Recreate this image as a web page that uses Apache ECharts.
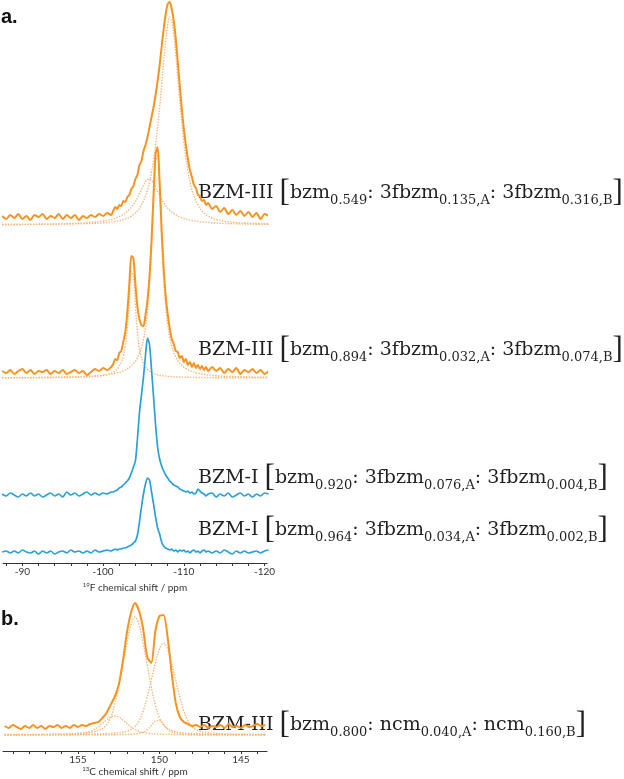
<!DOCTYPE html>
<html>
<head>
<meta charset="utf-8">
<script src="https://cdn.jsdelivr.net/npm/echarts@6/dist/echarts.min.js"></script>
<style>
html,body{margin:0;padding:0;background:#fff;}
#chart{width:624px;height:779px;}
</style>
</head>
<body>
<div id="chart"></div>
<script>
// ---------- Panel a: 19F spectra (ppm grid) ----------
const ppmA = [-87.5,-88,-88.5,-89,-89.5,-90,-90.5,-91,-91.5,-92,-92.5,-93,-93.5,-94,-94.5,-95,-95.5,-96,-96.5,-97,-97.5,-98,-98.5,-99,-99.5,-100,-100.5,-101,
-101.25,-101.5,-101.75,-102,-102.25,-102.5,-102.75,-103,-103.25,-103.5,-103.75,-104,-104.25,-104.5,-104.75,-105,-105.25,-105.5,-105.75,-106,-106.25,-106.5,-106.75,-107,-107.25,-107.5,-107.75,-108,-108.25,-108.5,-108.75,-109,-109.25,-109.5,-109.75,-110,-110.25,-110.5,-110.75,-111,-111.25,-111.5,-111.75,-112,-112.25,-112.5,-112.75,-113,
-113.5,-114,-114.5,-115,-115.5,-116,-116.5,-117,-117.5,-118,-118.5,-119,-119.5,-120,-120.5];

// BZM-III bzm0.549 (experimental + fitted components A, B)
const s1Exp = [1,-2,2,-1,3,-2,1,-3,2,0,3,-2,1,-1,3,-2,2,-1,2,-3,1,-1,2,0,3,1,4,2,
6,10,8,12,11,16,15,20,22,28,31,38,42,52,56,66,72,80,90,100,110,122,136,152,170,188,203,213,215,208,196,178,155,131,108,88,72,58,47,40,32,29,22,21,16,17,12,14,
8,11,5,9,3,7,2,6,1,5,0,4,-2,3,1];
const s1FitA = [0.4,0.5,0.5,0.5,0.5,0.6,0.6,0.6,0.7,0.7,0.8,0.9,0.9,1.0,1.1,1.2,1.3,1.5,1.6,1.8,2.0,2.3,2.6,2.9,3.4,4.0,4.7,5.6,
6.2,6.8,7.6,8.4,9.4,10.6,12.0,13.6,15.5,17.8,20.5,23.7,27.3,31.3,35.5,39.7,43.2,45.4,46.0,44.7,41.9,38.0,33.8,29.6,25.8,22.4,19.4,16.9,14.7,12.9,11.4,10.1,9.0,8.0,7.2,6.5,5.9,5.4,4.9,4.5,4.2,3.8,3.6,3.3,3.1,2.9,2.7,2.6,
2.2,1.9,1.7,1.5,1.4,1.3,1.2,1.1,1.0,0.9,0.8,0.7,0.7,0.6,0.6];
const s1FitB = [0.5,0.5,0.5,0.5,0.5,0.6,0.6,0.6,0.6,0.7,0.7,0.7,0.8,0.8,0.9,0.9,1.0,1.0,1.1,1.2,1.3,1.4,1.5,1.7,1.9,2.2,2.5,3.0,
3.2,3.5,3.9,4.3,4.8,5.3,6.0,6.8,7.7,8.8,10.2,11.9,14.0,16.6,20,24,29,35,43,53,65,80,98,118,140,162,184,200,208,204,190,170,147,124,102,83,67,54,43,35,29,24,20,16.5,14,12,10.4,9,
7,5.6,4.6,3.9,3.3,2.9,2.5,2.2,2.0,1.8,1.6,1.5,1.4,1.3,1.2];

// BZM-III bzm0.894
const s2Exp = [1,-1,2,-2,1,3,-1,2,-2,1,0,2,-2,1,-1,2,-2,0,2,-1,1,-3,0,3,1,4,2,5,
8,13,12,19,21,30,40,60,88,116,114,88,65,53,47,46,57,72,96,132,178,218,225,190,142,104,76,58,44,33,28,21,20,14,16,10,13,7,10,5,9,4,7,3,6,2,5,1,
5,1,4,-1,3,0,4,-2,2,0,3,-1,2,-2,1];
const s2FitA = [0.1,0.1,0.2,0.2,0.2,0.2,0.2,0.2,0.2,0.3,0.3,0.3,0.3,0.4,0.4,0.5,0.5,0.6,0.7,0.8,0.9,1.1,1.3,1.6,1.9,2.5,3.4,4.7,
5.7,7.1,8.9,11.6,15.6,22,32.5,50.2,78.3,106.5,102.4,71.9,45.9,29.9,20.5,14.7,11,8.5,6.8,5.5,4.6,3.8,3.3,2.8,2.4,2.1,1.9,1.7,1.5,1.4,1.2,1.1,1.0,1.0,0.9,0.8,0.7,0.7,0.6,0.6,0.6,0.5,0.5,0.5,0.4,0.4,0.4,0.4,
0.3,0.3,0.3,0.3,0.3,0.2,0.2,0.2,0.2,0.2,0.2,0.2,0.2,0.1,0.1];
const s2FitB = [0.3,0.4,0.4,0.4,0.4,0.5,0.5,0.5,0.6,0.6,0.6,0.7,0.7,0.8,0.9,0.9,1.0,1.1,1.2,1.4,1.5,1.7,1.9,2.2,2.5,2.8,3.3,3.9,
4.3,4.7,5.2,5.7,6.4,7.2,8.1,9.2,10.5,12.1,14.2,16.7,20.1,24.5,30.5,38.7,50.4,67.5,92.6,129,176,217,222,186,138,98.9,71.7,53.3,40.7,31.9,25.6,20.9,17.4,14.7,12.5,10.8,9.4,8.3,7.3,6.5,5.9,5.3,4.8,4.4,4.0,3.7,3.4,3.1,
2.7,2.3,2.0,1.8,1.6,1.5,1.3,1.2,1.1,1.0,0.9,0.8,0.8,0.7,0.7];

// BZM-I bzm0.920
const s3Exp = [1,-1,2,0,-2,1,-1,2,-1,1,-2,0,2,-1,1,-2,3,0,2,-1,1,3,0,2,0,2,1,3,
3,4,5,7,8,10,12,14,17,22,28,34,56,82,100,118,140,157,150,125,98,70,48,36,29,24,20,17,14,12,10,9,8,6,5,4,3,4,2,3,1,2,6,4,2,1,-1,1,
2,-2,1,-1,2,-2,0,2,-1,1,-2,1,-1,2,1];

// BZM-I bzm0.964
const s4Exp = [0,1,-1,1,-1,2,0,-1,1,-2,1,-1,1,-2,0,1,-1,2,0,1,-1,1,-1,2,0,1,2,1,
2,3,2,3,3,4,4,5,6,7,9,11,17,30,45,58,68,74,72,60,48,35,24,18,10,6,4,3,2,3,1,2,0,2,1,2,0,1,-1,1,2,0,1,-1,1,2,0,1,
-1,1,-1,2,0,-2,1,-1,1,-1,0,1,-1,1,2];

// vertical stacking offsets (same units as the intensities)
const expOffsetA = [346, 191, 68, 11];
const fitOffsetA = [338, 185];

const ticksA = [-88,-90,-92,-94,-96,-98,-100,-102,-104,-106,-108,-110,-112,-114,-116,-118,-120];
const labelsA = [-90,-100,-110,-120];

// ---------- Panel b: 13C spectrum ----------
const ppmB = [159.5,159.25,159,158.75,158.5,158.25,158,157.75,157.5,157.25,157,156.75,156.5,156.25,156,155.75,155.5,155.25,155,154.75,154.5,154.25,154,153.75,153.5,153.25,153,152.75,152.5,152.25,152,151.75,151.5,151.25,151,150.75,150.5,150.25,150,149.75,149.5,149.25,149,148.75,148.5,148.25,148,147.75,147.5,147.25,147,146.75,146.5,146.25,146,145.75,145.5,145.25,145,144.75,144.5,144.25,144,143.75,143.5];
const bExp = [1,-1,2,0,-2,1,-1,2,-1,1,-2,1,0,2,-1,1,-1,2,0,2,1,3,4,5,9,14,22,30,42,65,94,114,124,116,98,70,64,96,111,112,90,54,24,10,5,3,1,2,0,2,-1,1,0,2,-1,3,0,1,-1,2,0,1,3,1,2];
const bFit1 = [0.5,0.5,0.5,0.5,0.5,0.5,0.5,0.5,0.5,0.6,0.6,0.7,0.7,0.8,0.9,1.0,1.1,1.3,1.5,1.8,2.1,2.6,3.3,4.5,6.5,10,17,30,48,70,92,110,118,110,92,70,48,30,17,10,6.5,4.5,3.3,2.6,2.1,1.8,1.5,1.3,1.1,1.0,0.9,0.8,0.7,0.7,0.6,0.6,0.5,0.5,0.5,0.5,0.5,0.5,0.5,0.5,0.5];
const bFit2 = [0.3,0.3,0.3,0.3,0.35,0.35,0.35,0.35,0.4,0.4,0.4,0.4,0.5,0.5,0.5,0.5,0.55,0.6,0.65,0.7,0.75,0.8,0.9,1.0,1.15,1.3,1.5,1.8,2.2,2.8,3.8,5.5,8.5,14,24,38,55,72,86,92,86,72,55,38,24,14,8.5,5.5,3.8,2.8,2.2,1.8,1.5,1.3,1.15,1.0,0.9,0.8,0.75,0.7,0.65,0.6,0.55,0.5,0.5];
const bFit3 = [0.2,0.2,0.2,0.2,0.2,0.2,0.2,0.2,0.3,0.3,0.4,0.4,0.5,0.6,0.6,0.7,0.9,1.1,1.4,1.9,2.6,3.7,5.5,8,11.5,15,18,19,18,15,11.5,8,5.5,3.7,2.6,1.9,1.4,1.1,0.9,0.7,0.6,0.6,0.5,0.4,0.4,0.3,0.3,0.2,0.2,0.2,0.2,0.2,0.2,0.2,0.2,0.2,0.2,0.2,0.2,0.2,0.2,0.2,0.2,0.2,0.2];
const bFit4 = [0.2,0.2,0.2,0.2,0.2,0.2,0.2,0.2,0.2,0.2,0.2,0.2,0.2,0.2,0.2,0.2,0.2,0.2,0.2,0.2,0.2,0.2,0.2,0.2,0.2,0.25,0.3,0.3,0.4,0.5,0.6,0.8,1.0,1.6,2.8,5.2,9.5,14,14.5,10.5,6,3.2,1.8,1.1,0.8,0.6,0.5,0.4,0.3,0.3,0.25,0.2,0.2,0.2,0.2,0.2,0.2,0.2,0.2,0.2,0.2,0.2,0.2,0.2,0.2];
const expOffsetB = 24;
const fitOffsetB = 16;
const ticksB = [144,145,146,147,148,149,150,151,152,153,154,155,156,157,158,159];
const labelsB = [145,150,155];

// ---------- Text annotations ----------
const labelPhase = ['BZM-III','BZM-III','BZM-I','BZM-I','BZM-III'];
const labelGuest = ['3fbzm','3fbzm','3fbzm','3fbzm','ncm'];
const labelHost = ['0.549','0.894','0.920','0.964','0.800'];
const labelSiteA = ['0.135','0.032','0.076','0.034','0.040'];
const labelSiteB = ['0.316','0.074','0.004','0.002','0.160'];
const labelY = [193, 350, 478, 530, 725];

// ---------- styles ----------
const ORANGE = '#f7931e';
const ORANGE_FIT = '#f9b677';
const BLUE = '#2aa0d8';

function mk(ppm, vals, off) {
  return ppm.map((p, i) => [p, off + vals[i]]);
}
function expSeries(xi, ppm, vals, off, color, w, z) {
  return {type:'line', xAxisIndex:xi, yAxisIndex:xi, data:mk(ppm,vals,off),
    showSymbol:false, smooth:0.25, silent:true, z:z,
    lineStyle:{color:color, width:w}};
}
function fitSeries(xi, ppm, vals, off) {
  return {type:'line', xAxisIndex:xi, yAxisIndex:xi, data:mk(ppm,vals,off),
    showSymbol:false, smooth:0.4, silent:true, z:2,
    lineStyle:{color:ORANGE_FIT, width:1.4, type:'dotted'}};
}

const series = [
  fitSeries(0, ppmA, s1FitA, fitOffsetA[0]),
  fitSeries(0, ppmA, s1FitB, fitOffsetA[0]),
  fitSeries(0, ppmA, s2FitA, fitOffsetA[1]),
  fitSeries(0, ppmA, s2FitB, fitOffsetA[1]),
  expSeries(0, ppmA, s1Exp, expOffsetA[0], ORANGE, 2, 3),
  expSeries(0, ppmA, s2Exp, expOffsetA[1], ORANGE, 2, 3),
  expSeries(0, ppmA, s3Exp, expOffsetA[2], BLUE, 1.7, 4),
  expSeries(0, ppmA, s4Exp, expOffsetA[3], BLUE, 1.7, 4),
  fitSeries(1, ppmB, bFit1, fitOffsetB),
  fitSeries(1, ppmB, bFit2, fitOffsetB),
  fitSeries(1, ppmB, bFit3, fitOffsetB),
  fitSeries(1, ppmB, bFit4, fitOffsetB),
  expSeries(1, ppmB, bExp, expOffsetB, ORANGE, 2, 3)
];

const serif = '"DejaVu Serif", "Liberation Serif", serif';
const TXT = '#231f20';
const richStyle = {
  n:  {fontSize:19, fontFamily:serif, lineHeight:26, fill:TXT, color:TXT},
  br: {fontSize:31, fontFamily:'"Liberation Serif", serif', lineHeight:36, fill:TXT, color:TXT},
  sub:{fontSize:13, fontFamily:serif, height:20, lineHeight:20, verticalAlign:'bottom', fill:TXT, color:TXT}
};
const graphics = labelPhase.map((ph, i) => ({
  type:'text', x:198, y:labelY[i], silent:true,
  style:{
    text:'{n|' + ph + ' }{br|[}{n|bzm}{sub|' + labelHost[i] + '}{n|: ' + labelGuest[i] + '}{sub|' +
      labelSiteA[i] + ',A}{n|: ' + labelGuest[i] + '}{sub|' + labelSiteB[i] + ',B}{br|]}',
    rich: richStyle, align:'left', verticalAlign:'middle', fill:TXT
  }
}));
graphics.push({type:'text', x:1, y:17, style:{text:'a.', fontSize:20, fontWeight:'bold', fontFamily:'"Liberation Sans", Arial, sans-serif', fill:'#111', verticalAlign:'middle'}});
graphics.push({type:'text', x:1, y:619, style:{text:'b.', fontSize:20, fontWeight:'bold', fontFamily:'"Liberation Sans", Arial, sans-serif', fill:'#111', verticalAlign:'middle'}});

function xAxisCfg(gi, min, max, ticks, labels, nameSup, nameRest) {
  return {
    type:'value', gridIndex:gi, inverse:true, min:min, max:max,
    splitLine:{show:false},
    axisLine:{show:true, onZero:false, lineStyle:{color:'#333', width:1}},
    axisTick:{show:true, inside:false, length:3, customValues:ticks, lineStyle:{color:'#333', width:1}},
    axisLabel:{show:true, customValues:labels, margin:4, fontSize:10, fontFamily:'Lato, "Open Sans", sans-serif', color:'#333'},
    name:'{sup|' + nameSup + '}{n|' + nameRest + '}',
    nameLocation:'middle', nameGap:14,
    nameTextStyle:{fontFamily:'Lato, "Open Sans", sans-serif', color:'#333', fontSize:10,
      rich:{sup:{fontSize:6, lineHeight:6, verticalAlign:'top', fontFamily:'Lato, sans-serif', color:'#333'},
            n:{fontSize:10, lineHeight:12, fontFamily:'Lato, sans-serif', color:'#333'}}}
  };
}

const chart = echarts.init(document.getElementById('chart'), null, {renderer:'canvas'});
chart.setOption({
  animation:false,
  backgroundColor:'#ffffff',
  grid:[
    {left:3, top:0, width:264, height:563, containLabel:false},
    {left:3, top:600, width:264, height:151, containLabel:false}
  ],
  xAxis:[
    xAxisCfg(0, -120.3, -87.6, ticksA, labelsA, '19', 'F chemical shift / ppm'),
    xAxisCfg(1, 143.4, 159.6, ticksB, labelsB, '13', 'C chemical shift / ppm')
  ],
  yAxis:[
    {type:'value', gridIndex:0, min:0, max:563, show:false},
    {type:'value', gridIndex:1, min:0, max:151, show:false}
  ],
  series: series,
  graphic: graphics
});
</script>
</body>
</html>
